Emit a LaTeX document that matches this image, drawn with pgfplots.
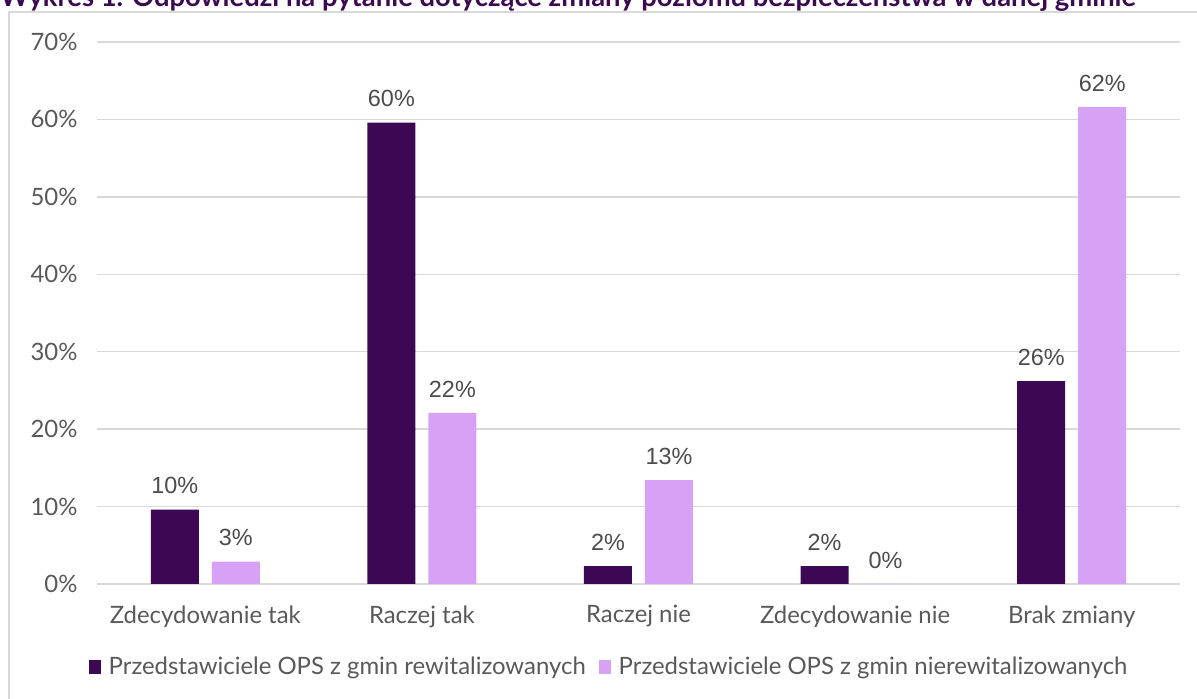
\documentclass[border=0pt]{standalone}
\usepackage{pgfplots}
\pgfplotsset{compat=1.18}
\usepackage{fontspec}
\setmainfont{Lato}
\newfontfamily\lab{Liberation Sans}
\definecolor{dark}{HTML}{3C0753}
\definecolor{light}{HTML}{D7A1F5}
\definecolor{gridc}{HTML}{D9D9D9}
\definecolor{txt}{HTML}{595959}
\definecolor{ttl}{HTML}{3B0A50}
\begin{document}
\begin{tikzpicture}
\useasboundingbox (0bp,0bp) rectangle (1197bp,699bp);
\clip (0bp,0bp) rectangle (1197bp,699bp);
\node[anchor=base west, inner sep=0pt, text=ttl, font=\fontsize{27.5}{30}\selectfont\bfseries] at (0bp,692bp) {Wykres 1. Odpowiedzi na pytanie dotyczące zmiany poziomu bezpieczeństwa w danej gminie};
\draw[gridc, line width=1.5bp] (9bp,-10bp) -- (9bp,687bp) -- (1210bp,687bp);
\begin{axis}[
  at={(97bp,115bp)}, anchor=south west,
  scale only axis, width=1083bp, height=542bp,
  ymin=0, ymax=70, xmin=-0.5, xmax=4.5,
  ybar=13bp, bar width=48bp,
  axis line style={draw=none},
  ytick={0,10,...,70},
  ymajorgrids=true, xmajorgrids=false,
  grid style={gridc, line width=1.3bp},
  major tick length=0pt,
  xtick=data,
  xticklabels={Zdecydowanie tak, Raczej tak, Raczej nie, Zdecydowanie nie, Brak zmiany},
  yticklabel={\pgfmathprintnumber{\tick}\%},
  /pgf/number format/assume math mode=true,
  ticklabel style={text=txt, font=\fontsize{24}{28}\selectfont},
  yticklabel style={xshift=-16bp},
  xticklabel style={yshift=-18bp},
  nodes near coords={\pgfmathprintnumber[fixed,precision=0]{\pgfplotspointmeta}\%},
  nodes near coords style={text=txt!85!black, font=\lab\fontsize{23.5}{27}\selectfont, yshift=12bp},
  legend style={at={(0.4728,-0.153)}, anchor=center, draw=none, fill=none,
    legend columns=2, font=\fontsize{24}{28}\selectfont, text=txt,
    /tikz/every odd column/.append style={column sep=6bp},
    /tikz/every even column/.append style={column sep=11bp}},
  legend image code/.code={\fill[#1] (0bp,-7bp) rectangle (12bp,7bp);},
  legend cell align=left,
]
\addplot[fill=dark, draw=none] coordinates {(0,9.6) (1,59.6) (2,2.3) (3,2.3) (4,26.2)};
\addplot[fill=light, draw=none] coordinates {(0,2.9) (1,22.1) (2,13.4) (3,0) (4,61.6)};
\legend{Przedstawiciele OPS z gmin rewitalizowanych, Przedstawiciele OPS z gmin nierewitalizowanych}
\end{axis}
\end{tikzpicture}
\end{document}
